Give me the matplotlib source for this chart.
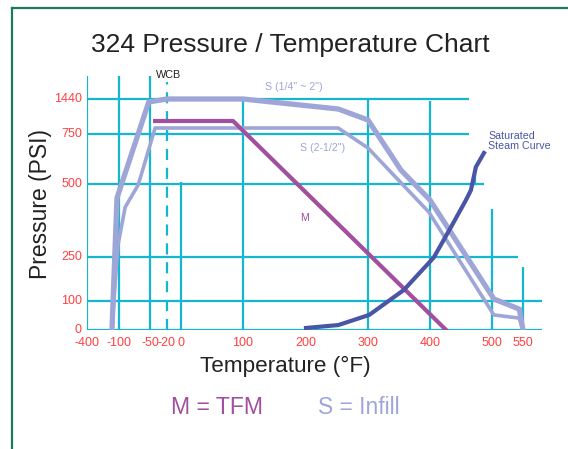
import numpy as np
import matplotlib
matplotlib.use("Agg")
import matplotlib.pyplot as plt
import matplotlib.transforms as mtrans

plt.rcParams['font.family'] = ['Liberation Sans', 'DejaVu Sans']

# ---- data ----
x_ticks = [-400, -100, -50, -20, 0, 100, 200, 300, 400, 500, 550]
x_tick_labels = ["-400", "-100", "-50", "-20", "0", "100", "200", "300", "400", "500", "550"]
y_ticks = [0, 100, 250, 500, 750, 1440]
y_tick_labels = ["0", "100", "250", "500", "750", "1440"]

s_small_T = [-166, -119, -52, -20, 100, 252, 300, 353, 400, 503, 544, 550]
s_small_P = [0, 452, 1381, 1440, 1440, 1243, 1026, 570, 445, 107, 72, 0]

s_large_T = [-166, -140, -110, -90, -69, -41, 252, 300, 398, 503, 544, 550]
s_large_P = [0, 140, 290, 421, 497, 868, 868, 680, 404, 52, 41, 0]

m_T = [-41, 84, 426]
m_P = [1006, 1006, 0]

steam_T = [200, 252, 302, 358, 406, 434, 458, 466, 474, 487]
steam_P = [7, 17, 52, 138, 248, 353, 445, 479, 585, 655]

# ---- piecewise scales (value -> pixel position) ----
xmap_v = [-400, -100, -50, -20, 0, 100, 200, 300, 400, 500, 550, 600]
xmap_p = [87, 119, 150, 167, 181, 243, 306, 368, 430, 492, 523, 554]
ymap_v = [0, 100, 250, 500, 750, 1440, 2000]
ymap_p = [-330, -301, -257, -184, -134, -99, -70.6]

def xf(v): return np.interp(v, xmap_v, xmap_p)
def xi(p): return np.interp(p, xmap_p, xmap_v)
def yf(v): return np.interp(v, ymap_v, ymap_p)
def yi(p): return np.interp(p, ymap_p, ymap_v)

W, H = 568, 449
fig = plt.figure(figsize=(W / 100, H / 100), dpi=100)
ax = fig.add_axes([87 / W, 1 - 330 / H, (554 - 87) / W, (330 - 70.6) / H])
ax.set_xscale('function', functions=(xf, xi))
ax.set_yscale('function', functions=(yf, yi))
ax.set_xlim(-400, 600)
ax.set_ylim(0, 2000)
ax.axis('off')

def px(dx, dy):
    return ax.transData + mtrans.ScaledTranslation(dx / 100, dy / 100, fig.dpi_scale_trans)

grid_c = '#14b6d0'
glw = 1.6
# horizontal grid lines (value, x-end)
for yv, xe in [(1440, 463), (750, 463), (500, 487), (250, 542), (100, 581), (0, 581)]:
    ax.plot([-400, xe], [yv, yv], color=grid_c, lw=glw, zorder=1, solid_capstyle='butt')
# vertical grid lines (value, y-top)
for xv, yt in [(-400, 1893), (-100, 1893), (-50, 1893), (0, 510), (100, 1440),
               (300, 1440), (400, 1400), (500, 414), (550, 216)]:
    ax.plot([xv, xv], [0, yt], color=grid_c, lw=glw, zorder=1, solid_capstyle='butt')
ax.plot([473, 473], [500, 580], color=grid_c, lw=glw, zorder=1)
ax.plot([-20, -20], [0, 1775], color=grid_c, lw=glw, zorder=1, dashes=(5, 3.5))

# curves
s_col = '#9ea6d8'
m_col = '#a24f9e'
st_col = '#4a55a6'
ax.plot(s_small_T, s_small_P, color=s_col, lw=3.8, zorder=3, solid_joinstyle='miter')
ax.plot(s_large_T, s_large_P, color=s_col, lw=2.6, zorder=3, solid_joinstyle='miter')
ax.plot(m_T, m_P, color=m_col, lw=3.0, zorder=4)
ax.plot(steam_T, steam_P, color=st_col, lw=3.0, zorder=5)

# tick labels
red = '#ff4040'
for v, lab in zip(x_ticks, x_tick_labels):
    ax.text(v, 0, lab, transform=px(0, -13), ha='center', va='center',
            fontsize=9, color=red)
for v, lab in zip(y_ticks, y_tick_labels):
    ax.text(-400, v, lab, transform=px(-5, 0), ha='right', va='center',
            fontsize=9, color=red)

# annotations
ax.text(-20, 1440, "WCB", transform=px(2, 24), ha='center', va='center',
        fontsize=7.8, color='#222222')
ax.text(181, 1440, 'S (1/4" ~ 2")', transform=px(0, 12), ha='center', va='center',
        fontsize=7.7, color=s_col)
ax.text(227, 750, 'S (2-1/2")', transform=px(0, -14), ha='center', va='center',
        fontsize=7.7, color=s_col)
ax.text(197, 500, 'M', transform=px(0, -34), ha='center', va='center',
        fontsize=7.7, color=m_col)
fig.text(488 / W, 1 - 141 / H, "Saturated\nSteam Curve", ha='left', va='center',
         fontsize=7.7, color=st_col, linespacing=1.05)

# titles
fig.text(290 / W, 1 - 45 / H, "324 Pressure / Temperature Chart", ha='center', va='center',
         fontsize=19, color='#222222')
fig.text(41 / W, 1 - 204 / H, "Pressure (PSI)", ha='center', va='center', rotation=90,
         fontsize=16.5, color='#222222')
fig.text(285 / W, 1 - 366 / H, "Temperature (°F)", ha='center', va='center',
         fontsize=16.2, color='#222222')
fig.text(217 / W, 1 - 408 / H, "M = TFM", ha='center', va='center',
         fontsize=16.6, color=m_col)
fig.text(359 / W, 1 - 408 / H, "S = Infill", ha='center', va='center',
         fontsize=16.4, color=s_col)

# green frame
frame_c = '#1f7a5c'
fig.add_artist(plt.Line2D([12 / W, 12 / W], [0, 1 - 8 / H], transform=fig.transFigure, color=frame_c, lw=1.6))
fig.add_artist(plt.Line2D([12 / W, 1], [1 - 8 / H, 1 - 8 / H], transform=fig.transFigure, color=frame_c, lw=1.6))

fig.savefig("out.png", dpi=100)
